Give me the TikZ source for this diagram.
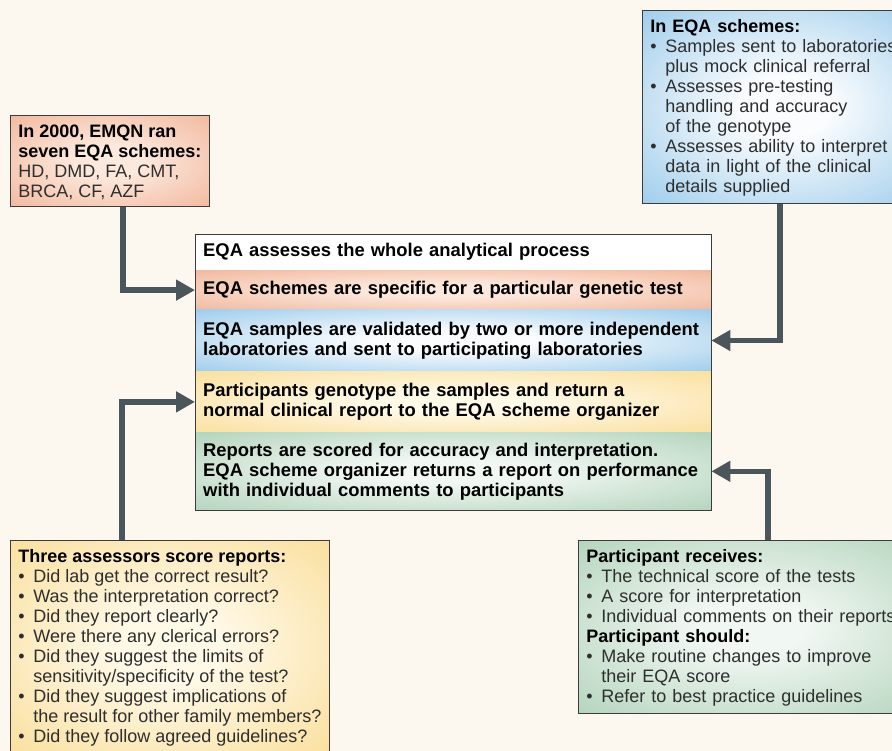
\documentclass[tikz,border=0pt]{standalone}
\usepackage{fontspec}
\setmainfont{Liberation Sans}
\usetikzlibrary{arrows.meta,positioning}

\definecolor{bgcream}{HTML}{FDF8EF}
\definecolor{boxline}{HTML}{3C3C3C}
\definecolor{txtgray}{HTML}{2E2E2E}
\definecolor{arrowgray}{HTML}{4B555C}
\definecolor{ordeep}{HTML}{EFAA8C}
\definecolor{orlight}{HTML}{FCE9DD}
\definecolor{bludeep}{HTML}{84BFE6}
\definecolor{blulight}{HTML}{FAFCFE}
\definecolor{yeldeep}{HTML}{F9D888}
\definecolor{yellight}{HTML}{FFF9E8}
\definecolor{grndeep}{HTML}{A2CAAD}
\definecolor{grnlight}{HTML}{F1F7F2}

% soft radial fills: light centre, colour at the rim
\newcommand{\softshade}[3]{\pgfdeclareradialshading{#1}{\pgfpoint{0bp}{0bp}}%
    {color(0bp)=(#2); color(8bp)=(#2); color(44bp)=(#3); color(50bp)=(#3)}}
\softshade{orsoft}{orlight}{ordeep}
\softshade{blusoft}{blulight}{bludeep}
\softshade{yelsoft}{yellight}{yeldeep}
\softshade{grnsoft}{grnlight}{grndeep}

\newcommand{\itm}{\makebox[15pt][l]{\textbullet}}
\newcommand{\cnt}{\hspace*{15pt}}
\newcommand{\hd}[1]{\rule{0pt}{15pt}\textcolor{black}{\textbf{#1}}}

\begin{document}
\begin{tikzpicture}[x=1pt, y=-1pt,
    sidebox/.style={draw=boxline, line width=0.8pt, anchor=north west, align=left,
        inner xsep=8pt, inner ysep=7pt, text=txtgray, font=\fontsize{18}{20}\selectfont},
    row/.style={align=left, text width=500pt, inner xsep=8pt, inner ysep=0pt,
        font=\fontsize{18.4}{20}\selectfont\bfseries},
    flow/.style={arrowgray, line width=5.5pt, -{Triangle[length=19pt,width=20pt]}}]
    \clip (0,0) rectangle (892,751);
    \fill[bgcream] (0,0) rectangle (892,751);

    % Side boxes
    \node[sidebox, shade, shading=orsoft] (emqn) at (10,115)
        {\hd{In 2000, EMQN ran}\\
         \textcolor{black}{\textbf{seven EQA schemes:}}\\
         HD, DMD, FA, CMT,\\
         BRCA, CF, AZF};

    \node[sidebox, shade, shading=blusoft, text width=270pt] (schemes) at (642,10)
        {\hd{In EQA schemes:}\\
         \itm Samples sent to laboratories\\
         \cnt plus mock clinical referral\\
         \itm Assesses pre-testing\\
         \cnt handling and accuracy\\
         \cnt of the genotype\\
         \itm Assesses ability to interpret\\
         \cnt data in light of the clinical\\
         \cnt details supplied};

    \node[sidebox, shade, shading=yelsoft] (assessors) at (10,540)
        {\hd{Three assessors score reports:}\\
         \itm Did lab get the correct result?\\
         \itm Was the interpretation correct?\\
         \itm Did they report clearly?\\
         \itm Were there any clerical errors?\\
         \itm Did they suggest the limits of\\
         \cnt sensitivity/specificity of the test?\\
         \itm Did they suggest implications of\\
         \cnt the result for other family members?\\
         \itm Did they follow agreed guidelines?};

    \node[sidebox, shade, shading=grnsoft, text width=330pt] (receives) at (578,540)
        {\hd{Participant receives:}\\
         \itm The technical score of the tests\\
         \itm A score for interpretation\\
         \itm Individual comments on their reports\\
         \textcolor{black}{\textbf{Participant should:}}\\
         \itm Make routine changes to improve\\
         \cnt their EQA score\\
         \itm Refer to best practice guidelines};

    % Central stack
    \node[row, fill=white, minimum height=36pt, anchor=north west] (whole) at (195,234)
        {EQA assesses the whole analytical process};
    \node[row, shade, shading=orsoft, minimum height=39pt, below=0pt of whole] (specific)
        {EQA schemes are specific for a particular genetic test};
    \node[row, shade, shading=blusoft, minimum height=61pt, below=0pt of specific] (validated)
        {EQA samples are validated by two or more independent\\laboratories and sent to participating laboratories};
    \node[row, shade, shading=yelsoft, minimum height=61pt, below=0pt of validated] (genotype)
        {Participants genotype the samples and return a\\normal clinical report to the EQA scheme organizer};
    \node[row, shade, shading=grnsoft, minimum height=77pt, below=0pt of genotype] (scored)
        {Reports are scored for accuracy and interpretation.\\EQA scheme organizer returns a report on performance\\with individual comments to participants};
    \draw[boxline, line width=0.8pt] (whole.north west) rectangle (scored.south east);

    % Connections
    \draw[flow] ([xshift=113pt]emqn.south west) |- (specific.west);
    \draw[flow] ([xshift=138pt]schemes.south west) |- (validated.east);
    \draw[flow] ([xshift=112pt]assessors.north west) |- (genotype.west);
    \draw[flow] ([xshift=190pt]receives.north west) |- (scored.east);
\end{tikzpicture}
\end{document}
